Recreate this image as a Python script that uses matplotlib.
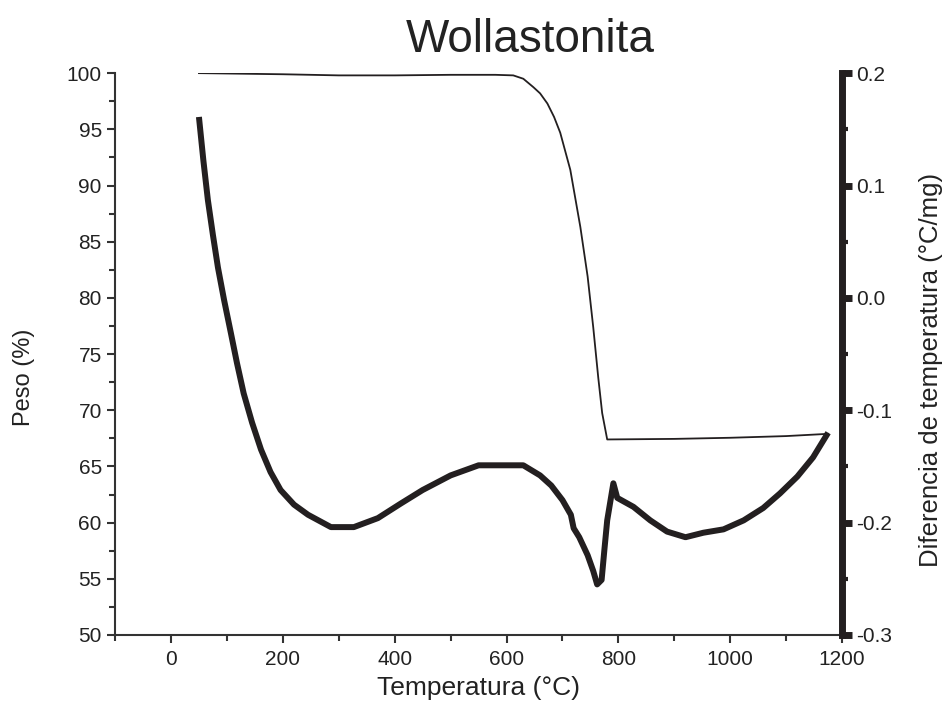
import numpy as np
from matplotlib import pyplot as plt
from matplotlib.ticker import MultipleLocator

plt.rcParams['font.family'] = ['Liberation Sans', 'DejaVu Sans']

# TGA: weight (%) vs temperature
tga_temp = [50, 200, 300, 400, 500, 580, 612, 630, 648, 660, 673, 685, 696,
            714, 732, 745, 755, 764, 771, 780, 900, 1000, 1100, 1175]
tga_weight = [100.0, 99.9, 99.8, 99.8, 99.85, 99.85, 99.8, 99.5, 98.75,
              98.2, 97.3, 96.1, 94.7, 91.4, 86.3, 81.9, 77.4, 72.9, 69.75,
              67.4, 67.45, 67.55, 67.7, 67.9]

# DTA: temperature difference (°C/mg) vs temperature
dta_temp = [50, 58, 66, 75, 84, 95, 107, 118, 130, 145, 161, 178, 196, 220,
            245, 286, 327, 370, 411, 450, 500, 550, 600, 630, 660, 680, 700,
            715, 720, 730, 745, 755, 762, 770, 775, 780, 791, 798, 827, 857,
            887, 920, 952, 988, 1024, 1059, 1089, 1120, 1148, 1175]
dta_val = [0.161, 0.122, 0.087, 0.056, 0.027, -0.002, -0.031, -0.058, -0.085,
           -0.111, -0.135, -0.155, -0.171, -0.184, -0.193, -0.204, -0.204,
           -0.196, -0.183, -0.171, -0.158, -0.149, -0.149, -0.149, -0.158,
           -0.167, -0.180, -0.193, -0.205, -0.213, -0.229, -0.243, -0.255,
           -0.251, -0.224, -0.198, -0.165, -0.178, -0.186, -0.198, -0.208,
           -0.213, -0.209, -0.206, -0.198, -0.187, -0.174, -0.159, -0.142,
           -0.120]

ink = '#231f20'
axcol = '#333333'
txt = '#222222'

fig = plt.figure(figsize=(9.43, 7.17), dpi=100)
ax = fig.add_axes([0.122, 0.1144, 0.771, 0.7836])
ax2 = ax.twinx()

ax.plot(tga_temp, tga_weight, color=ink, lw=1.3, zorder=3)
ax2.plot(dta_temp, dta_val, color=ink, lw=4.3, solid_joinstyle='round',
         solid_capstyle='butt', zorder=3)

ax.set_xlim(-100, 1200)
ax.set_ylim(50, 100)
ax2.set_ylim(-0.3, 0.2)

ax.xaxis.set_major_locator(MultipleLocator(200))
ax.xaxis.set_minor_locator(MultipleLocator(100))
ax.yaxis.set_major_locator(MultipleLocator(5))
ax.yaxis.set_minor_locator(MultipleLocator(2.5))
ax2.yaxis.set_major_locator(MultipleLocator(0.1))
ax2.yaxis.set_minor_locator(MultipleLocator(0.05))
ax2.yaxis.set_major_formatter(plt.FuncFormatter(lambda v, p: f'{v:.1f}'.replace('-0.0', '0.0')))

for a in (ax, ax2):
    a.spines['top'].set_visible(False)
    a.tick_params(which='both', direction='out', labelsize=15, colors=axcol,
                  labelcolor=txt)
    a.tick_params(which='major', length=6, width=1.5)
    a.tick_params(which='minor', length=4, width=1.5)

ax.spines['left'].set_linewidth(1.5)
ax.spines['bottom'].set_linewidth(1.5)
ax.spines['left'].set_color(axcol)
ax.spines['bottom'].set_color(axcol)
ax.spines['right'].set_visible(False)
ax2.spines['left'].set_visible(False)
ax2.spines['bottom'].set_visible(False)
ax2.spines['right'].set_linewidth(5)
ax2.spines['right'].set_color(ink)
ax2.tick_params(axis='y', which='major', width=5, length=7, colors=ink, pad=3)
ax2.tick_params(axis='y', which='minor', width=3, length=4, colors=ink)
ax2.tick_params(axis='y', labelcolor=txt)
ax.tick_params(axis='x', pad=5)

ax.set_xlabel('Temperatura (°C)', fontsize=19, color=txt, labelpad=5)
ax.set_ylabel('Peso (%)', fontsize=17, color=txt)
ax2.set_ylabel('Diferencia de temperatura (°C/mg)', fontsize=18.5, color=txt)
ax.yaxis.set_label_coords(-0.11, 0.458)
ax2.yaxis.set_label_coords(1.106, 0.4715)
ax.set_title('Wollastonita', fontsize=33, color=txt, pad=15, x=0.571)

fig.savefig('out.png', dpi=100)
